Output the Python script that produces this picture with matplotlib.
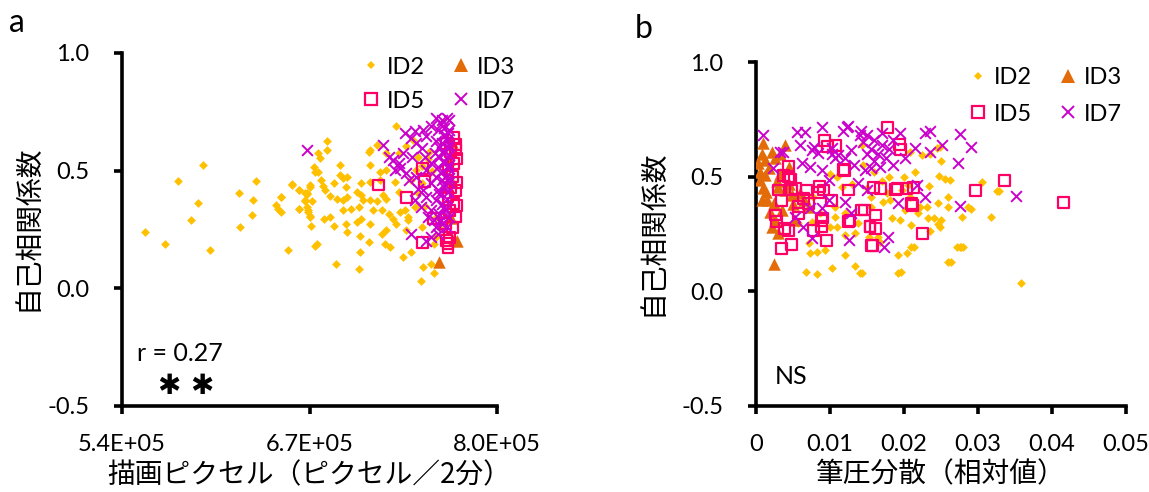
import matplotlib
matplotlib.use('Agg')
import matplotlib.pyplot as plt
from matplotlib.lines import Line2D

# ---- panel a : drawn pixels vs autocorrelation ----
a_id2_x = [556e3, 570e3, 579e3, 596e3, 593e3, 588e3, 601e3, 621e3, 633e3, 631e3,
           630e3, 622e3, 650e3, 647e3, 648e3, 650e3, 655e3, 658e3, 663e3, 667e3,
           668e3, 667e3, 663e3, 668e3, 669e3, 670e3, 670e3, 663e3, 670e3, 668e3,
           667e3, 673e3, 674e3, 676e3, 682e3, 682e3, 678e3, 681e3, 684e3, 689e3,
           687e3, 663e3, 669e3, 670e3, 680e3, 684e3, 671e3, 687e3, 691e3, 691e3,
           693e3, 696e3, 695e3, 696e3, 693e3, 693e3, 699e3, 704e3, 695e3, 703e3,
           696e3, 675e3, 674e3, 688e3, 704e3, 705e3, 711e3, 705e3, 712e3, 706e3,
           714e3, 712e3, 706e3, 707e3, 706e3, 712e3, 703e3, 712e3, 719e3, 712e3,
           711e3, 717e3, 723e3, 719e3, 721e3, 723e3, 717e3, 720e3, 725e3, 728e3,
           730e3, 723e3, 722e3, 726e3, 720e3, 733e3, 736e3, 738e3, 732e3, 729e3,
           723e3, 732e3, 730e3, 735e3, 740e3, 747e3, 749e3, 754e3, 756e3, 737e3,
           738e3, 743e3, 744e3, 740e3, 748e3, 745e3, 748e3, 737e3, 742e3, 758e3,
           756e3, 676e3, 677e3, 679e3, 672e3, 650e3, 658e3, 752e3, 755e3, 750e3,
           757e3, 760e3, 753e3, 745e3, 748e3]
a_id2_y = [0.241, 0.189, 0.456, 0.524, 0.363, 0.290, 0.164, 0.403, 0.456, 0.374,
           0.313, 0.259, 0.386, 0.356, 0.336, 0.324, 0.161, 0.441, 0.419, 0.403,
           0.399, 0.371, 0.337, 0.346, 0.324, 0.306, 0.441, 0.417, 0.431, 0.403,
           0.374, 0.517, 0.496, 0.574, 0.624, 0.586, 0.460, 0.417, 0.391, 0.381,
           0.446, 0.339, 0.331, 0.303, 0.296, 0.303, 0.263, 0.263, 0.524, 0.481,
           0.467, 0.474, 0.431, 0.389, 0.374, 0.331, 0.339, 0.346, 0.274, 0.281,
           0.239, 0.189, 0.181, 0.103, 0.081, 0.153, 0.196, 0.224, 0.274, 0.296,
           0.331, 0.374, 0.396, 0.374, 0.446, 0.453, 0.410, 0.524, 0.496, 0.589,
           0.581, 0.610, 0.503, 0.460, 0.396, 0.381, 0.371, 0.331, 0.317, 0.296,
           0.274, 0.246, 0.189, 0.174, 0.231, 0.324, 0.331, 0.303, 0.410, 0.453,
           0.574, 0.574, 0.689, 0.131, 0.153, 0.031, 0.089, 0.103, 0.067, 0.246,
           0.289, 0.346, 0.503, 0.460, 0.446, 0.403, 0.260, 0.603, 0.631, 0.217,
           0.189, 0.494, 0.553, 0.433, 0.369, 0.388, 0.443, 0.550, 0.500, 0.350,
           0.300, 0.260, 0.580, 0.560, 0.520]

a_id3_x = [760e3, 770e3, 772e3, 768e3, 769e3, 767e3, 769e3]
a_id3_y = [0.110, 0.210, 0.200, 0.300, 0.450, 0.550, 0.620]

a_id5_x = [718e3, 737e3, 750e3, 748e3, 756e3, 748e3, 766e3, 766e3, 770e3, 771e3,
           770e3, 769e3, 771e3, 770e3, 771e3, 769e3, 767e3, 765e3, 765e3, 766e3,
           766e3, 767e3, 764e3, 772e3, 772e3, 772e3, 768e3, 768e3, 771e3]
a_id5_y = [0.439, 0.386, 0.453, 0.510, 0.296, 0.196, 0.189, 0.174, 0.640, 0.589,
           0.531, 0.474, 0.417, 0.360, 0.303, 0.260, 0.217, 0.203, 0.617, 0.503,
           0.389, 0.331, 0.274, 0.550, 0.450, 0.350, 0.430, 0.580, 0.610]

a_id7_x = [668e3, 721e3, 725e3, 728e3, 732e3, 733e3, 729e3, 736e3, 740e3, 743e3,
           735e3, 741e3, 744e3, 748e3, 737e3, 739e3, 744e3, 745e3, 743e3, 747e3,
           740e3, 751e3, 754e3, 749e3, 751e3, 754e3, 750e3, 754e3, 751e3, 749e3,
           751e3, 754e3, 754e3, 752e3, 756e3, 758e3, 759e3,
           758e3, 762e3, 765e3, 767e3, 759e3, 763e3, 766e3, 767e3,
           758e3, 762e3, 765e3, 767e3, 757e3, 760e3, 764e3, 767e3,
           759e3, 763e3, 766e3, 767e3, 758e3, 762e3, 765e3, 767e3,
           759e3, 763e3, 766e3, 758e3, 762e3, 765e3, 760e3, 764e3, 767e3,
           762e3, 765e3, 761e3, 764e3, 760e3, 763e3, 761e3, 764e3, 760e3, 763e3,
           761e3, 766e3, 767e3, 766e3, 762e3]
a_id7_y = [0.586, 0.610, 0.560, 0.546, 0.531, 0.510, 0.503, 0.660, 0.639, 0.667,
           0.574, 0.560, 0.617, 0.596, 0.489, 0.460, 0.474, 0.424, 0.374, 0.346,
           0.231, 0.203, 0.217, 0.674, 0.646, 0.689, 0.560, 0.531, 0.503, 0.417,
           0.389, 0.446, 0.331, 0.303, 0.289, 0.260, 0.231,
           0.724, 0.717, 0.724, 0.717, 0.674, 0.681, 0.660, 0.674,
           0.624, 0.617, 0.631, 0.610, 0.574, 0.560, 0.581, 0.567,
           0.517, 0.531, 0.510, 0.524, 0.474, 0.460, 0.481, 0.467,
           0.417, 0.431, 0.410, 0.374, 0.360, 0.381, 0.317, 0.331, 0.303,
           0.274, 0.260, 0.700, 0.650, 0.600, 0.540, 0.490, 0.440, 0.400, 0.345,
           0.290, 0.600, 0.450, 0.520, 0.580]

# ---- panel b : pen pressure variance vs autocorrelation ----
b_id2_x = [0.0326, 0.0318, 0.0358, 0.0247, 0.0255, 0.0262, 0.0305, 0.0234, 0.0260, 0.0246,
           0.0259, 0.0287, 0.0279, 0.0233, 0.0240, 0.0246, 0.0235, 0.0219, 0.0222, 0.0231,
           0.0209, 0.0195, 0.0184, 0.0201, 0.0181, 0.0172, 0.0177, 0.0208, 0.0197, 0.0210,
           0.0204, 0.0192, 0.0192, 0.0143, 0.0260, 0.0271, 0.0276, 0.0208, 0.0224, 0.0244,
           0.0249, 0.0165, 0.0168, 0.0206, 0.0156, 0.0073, 0.0082, 0.0093, 0.0071, 0.0107,
           0.0120, 0.0109, 0.0068, 0.0082, 0.0102, 0.0120, 0.0134, 0.0141, 0.0143, 0.0100,
           0.0109, 0.0116, 0.0077, 0.0066, 0.0107, 0.0086, 0.0075, 0.0057, 0.0100, 0.0134,
           0.0138, 0.0152, 0.0156, 0.0120, 0.0290, 0.0277, 0.0280, 0.0264, 0.0196, 0.0214,
           0.0248, 0.0250, 0.0150, 0.0170, 0.0160, 0.0130, 0.0145, 0.0180, 0.0200, 0.0215,
           0.0235, 0.0250, 0.0329]
b_id2_y = [0.4375, 0.323, 0.035, 0.503, 0.490, 0.485, 0.478, 0.459, 0.410, 0.384,
           0.366, 0.369, 0.326, 0.318, 0.318, 0.294, 0.265, 0.340, 0.369, 0.366,
           0.289, 0.311, 0.318, 0.355, 0.398, 0.391, 0.427, 0.413, 0.442, 0.192,
           0.169, 0.159, 0.081, 0.078, 0.129, 0.192, 0.195, 0.606, 0.594, 0.624,
           0.631, 0.238, 0.216, 0.464, 0.410, 0.166, 0.173, 0.180, 0.209, 0.326,
           0.246, 0.282, 0.086, 0.074, 0.100, 0.159, 0.112, 0.078, 0.638, 0.514,
           0.500, 0.456, 0.413, 0.391, 0.369, 0.340, 0.304, 0.296, 0.282, 0.253,
           0.296, 0.238, 0.369, 0.340, 0.360, 0.195, 0.195, 0.129, 0.086, 0.195,
           0.280, 0.310, 0.450, 0.480, 0.520, 0.470, 0.550, 0.500, 0.500, 0.520,
           0.600, 0.570, 0.437]

b_id3_x = [0.00248, 0.00099, 0.00392, 0.00122, 0.00054, 0.0014, 0.0030, 0.0024, 0.0035, 0.0026,
           0.0030, 0.0012, 0.0044, 0.0021, 0.0017, 0.00077, 0.0048, 0.0053, 0.0019, 0.0003,
           0.0032, 0.0039, 0.0065, 0.0072, 0.0060, 0.0008, 0.0025, 0.0010, 0.0028, 0.0015,
           0.0033, 0.0006, 0.0045, 0.0050, 0.0022]
b_id3_y = [0.119, 0.645, 0.638, 0.573, 0.485, 0.435, 0.456, 0.384, 0.355, 0.311,
           0.253, 0.507, 0.544, 0.609, 0.536, 0.398, 0.420, 0.311, 0.347, 0.558,
           0.514, 0.442, 0.400, 0.370, 0.430, 0.600, 0.580, 0.450, 0.480, 0.400,
           0.600, 0.520, 0.470, 0.380, 0.280]

b_id5_x = [0.03355, 0.0415, 0.0178, 0.0194, 0.0195, 0.0159, 0.0168, 0.0189, 0.0204, 0.0213,
           0.0210, 0.0212, 0.0146, 0.0162, 0.0154, 0.0161, 0.0225, 0.0158, 0.0296, 0.0044,
           0.0037, 0.0044, 0.0030, 0.0048, 0.0035, 0.0053, 0.0068, 0.0086, 0.0091, 0.0093,
           0.0107, 0.0120, 0.0125, 0.0071, 0.0026, 0.0028, 0.0044, 0.0039, 0.0057, 0.0089,
           0.0089, 0.0035, 0.0048, 0.0095, 0.0143, 0.0125, 0.0154, 0.0156, 0.0102, 0.0064,
           0.0078, 0.0046, 0.0058, 0.0085, 0.0097, 0.0118, 0.0191, 0.0127, 0.0090]
b_id5_y = [0.485, 0.388, 0.715, 0.641, 0.619, 0.453, 0.449, 0.446, 0.450, 0.453,
           0.384, 0.376, 0.355, 0.333, 0.282, 0.275, 0.253, 0.202, 0.439, 0.544,
           0.507, 0.500, 0.442, 0.442, 0.398, 0.449, 0.442, 0.456, 0.442, 0.660,
           0.638, 0.529, 0.442, 0.384, 0.333, 0.304, 0.267, 0.275, 0.340, 0.311,
           0.282, 0.187, 0.206, 0.221, 0.355, 0.304, 0.282, 0.202, 0.398, 0.405,
           0.267, 0.490, 0.370, 0.430, 0.630, 0.530, 0.450, 0.310, 0.320]

b_id7_x = [0.0351, 0.0235, 0.0228, 0.0276, 0.0291, 0.0251, 0.0235, 0.0215, 0.0273, 0.0195,
           0.0217, 0.0228, 0.0192, 0.0276, 0.0179, 0.0173, 0.0201, 0.0168, 0.00099, 0.0089,
           0.0123, 0.0055, 0.0066, 0.0141, 0.0032, 0.0023, 0.0075, 0.0084, 0.0102, 0.0111,
           0.0120, 0.0129, 0.0062, 0.0073, 0.0089, 0.0098, 0.0138, 0.0150, 0.0073, 0.0089,
           0.0098, 0.0120, 0.0053, 0.0064, 0.0075, 0.0125, 0.0129, 0.0147, 0.0150, 0.0160,
           0.0170, 0.0155, 0.0165, 0.0175, 0.0160, 0.0180, 0.0185, 0.0150, 0.0145, 0.0170,
           0.0185, 0.0155, 0.0118, 0.0124, 0.0142, 0.0036, 0.0060, 0.0078, 0.0103, 0.0107,
           0.0132]
b_id7_y = [0.417, 0.700, 0.689, 0.686, 0.631, 0.638, 0.609, 0.624, 0.561, 0.689,
           0.464, 0.410, 0.387, 0.372, 0.238, 0.195, 0.580, 0.543, 0.682, 0.718,
           0.718, 0.696, 0.696, 0.682, 0.609, 0.536, 0.616, 0.602, 0.624, 0.594,
           0.580, 0.616, 0.558, 0.544, 0.529, 0.485, 0.471, 0.442, 0.362, 0.362,
           0.398, 0.391, 0.326, 0.282, 0.231, 0.224, 0.340, 0.529, 0.680, 0.660,
           0.640, 0.620, 0.600, 0.580, 0.570, 0.620, 0.660, 0.600, 0.650, 0.690,
           0.550, 0.540, 0.700, 0.720, 0.700, 0.610, 0.640, 0.630, 0.600, 0.580,
           0.550]

y_ticks = [-0.5, 0.0, 0.5, 1.0]
y_tick_labels = ['-0.5', '0.0', '0.5', '1.0']
a_x_ticks = [540000, 670000, 800000]
a_x_tick_labels = ['5.4E+05', '6.7E+05', '8.0E+05']
b_x_ticks = [0, 0.01, 0.02, 0.03, 0.04, 0.05]
b_x_tick_labels = ['0', '0.01', '0.02', '0.03', '0.04', '0.05']

C_ID2 = '#FFC000'
C_ID3 = '#E36C09'
C_ID5 = '#FF0066'
C_ID7 = '#CC00CC'

JP = ['Noto Sans CJK JP', 'DejaVu Sans']
plt.rcParams['font.family'] = ['Lato', 'Noto Sans CJK JP', 'DejaVu Sans']


def draw_panel(ax, d2, d3, d5, d7, leg_anchor, leg_spacing, ylab_x, xlab_y):
    ax.scatter(d2[0], d2[1], marker='D', s=20, color=C_ID2, linewidths=0, zorder=2)
    ax.scatter(d3[0], d3[1], marker='^', s=80, color=C_ID3, linewidths=0, zorder=3)
    ax.scatter(d5[0], d5[1], marker='s', s=62, facecolors='none', edgecolors=C_ID5,
               linewidths=1.6, zorder=4)
    ax.scatter(d7[0], d7[1], marker='x', s=60, color=C_ID7, linewidths=1.4, zorder=5)
    for side in ['top', 'right']:
        ax.spines[side].set_visible(False)
    for side in ['left', 'bottom']:
        ax.spines[side].set_linewidth(2.6)
    ax.tick_params(direction='out', length=5.5, width=2.6, labelsize=17)
    ax.tick_params(axis='y', pad=18)
    ax.tick_params(axis='x', pad=15)
    ax.set_ylim(-0.5, 1.0)
    ax.set_yticks(y_ticks)
    ax.set_yticklabels(y_tick_labels)
    ax.set_ylabel('自己相関係数', family=JP, fontsize=20)
    ax.yaxis.label.set_va('center')
    ax.yaxis.set_label_coords(ylab_x, 0.505)
    ax.xaxis.label.set_va('center')
    ax.xaxis.set_label_coords(0.5, xlab_y)
    handles = [
        Line2D([], [], ls='none', marker='D', ms=4.5, color=C_ID2, mew=0),
        Line2D([], [], ls='none', marker='s', ms=9, mfc='none', mec=C_ID5, mew=1.6),
        Line2D([], [], ls='none', marker='^', ms=10, color=C_ID3, mew=0),
        Line2D([], [], ls='none', marker='x', ms=8.5, color=C_ID7, mew=1.4),
    ]
    ax.legend(handles, ['ID2', 'ID5', 'ID3', 'ID7'], ncol=2, frameon=False,
              fontsize=17, loc='upper right', bbox_to_anchor=leg_anchor,
              handlelength=0.8, handletextpad=0.25, columnspacing=1.15,
              labelspacing=leg_spacing, borderaxespad=0, borderpad=0)


fig = plt.figure(figsize=(11.49, 4.92), dpi=100)
ax_a = fig.add_axes([0.1062, 0.1748, 0.3264, 0.7175])
ax_b = fig.add_axes([0.6580, 0.1748, 0.3220, 0.6990])

draw_panel(ax_a, (a_id2_x, a_id2_y), (a_id3_x, a_id3_y), (a_id5_x, a_id5_y), (a_id7_x, a_id7_y),
           (1.048, 0.99), 0.55, -0.251, -0.196)
ax_a.set_xlim(540000, 800000)
ax_a.set_xticks(a_x_ticks)
ax_a.set_xticklabels(a_x_tick_labels)
ax_a.set_xlabel('描画ピクセル（ピクセル／2分）', family=JP, fontsize=20)
ax_a.text(0.04, 0.15, 'r = 0.27', transform=ax_a.transAxes, fontsize=18, va='center')
# significance marks (two heavy asterisks)
ax_a.text(0.124, 0.058, '✱', transform=ax_a.transAxes, fontsize=20, family='DejaVu Sans',
          ha='center', va='center')
ax_a.text(0.213, 0.058, '✱', transform=ax_a.transAxes, fontsize=20, family='DejaVu Sans',
          ha='center', va='center')

draw_panel(ax_b, (b_id2_x, b_id2_y), (b_id3_x, b_id3_y), (b_id5_x, b_id5_y), (b_id7_x, b_id7_y),
           (0.989, 0.985), 0.65, -0.278, -0.198)
ax_b.set_xlim(0, 0.05)
ax_b.set_xticks(b_x_ticks)
ax_b.set_xticklabels(b_x_tick_labels)
ax_b.set_xlabel('筆圧分散（相対値）', family=JP, fontsize=20)
ax_b.text(0.051, 0.087, 'NS', transform=ax_b.transAxes, fontsize=18, va='center')

fig.text(0.0078, 0.935, 'a', fontsize=23, va='baseline')
fig.text(0.5527, 0.9228, 'b', fontsize=23, va='baseline')

fig.savefig('out.png', dpi=100)
